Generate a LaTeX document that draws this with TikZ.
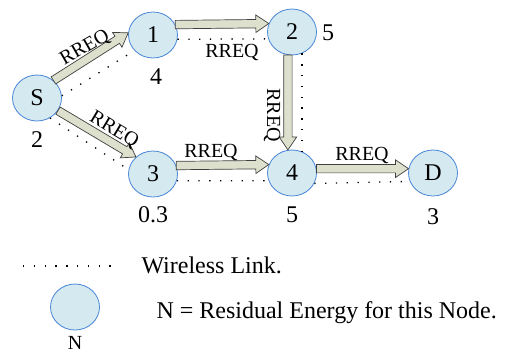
\documentclass[tikz,border=0pt]{standalone}
\usepackage{fontspec}
\setmainfont{Liberation Serif}
\usepackage{tikz}
\usetikzlibrary{calc,shapes.geometric}
\definecolor{nodefill}{RGB}{212,234,240}
\definecolor{nodeline}{RGB}{74,134,216}
\definecolor{arrowfill}{RGB}{221,224,204}

\begin{document}
\begin{tikzpicture}[x=1pt,y=-1pt,
  host/.style={ellipse,draw=nodeline,fill=nodefill,line width=0.8pt,minimum width=49pt,minimum height=46pt,inner sep=0pt,font=\fontsize{24}{28}\selectfont},
  energy/.style={font=\fontsize{24}{28}\selectfont},
  rreq/.style={font=\fontsize{20}{24}\selectfont,inner sep=0pt},
  rarrow/.style={fill=arrowfill,draw=black!75,line width=0.7pt,line join=miter},
  link/.style={line width=1.3pt,dash pattern=on 1.3pt off 9.5pt}]
  \useasboundingbox (0,0) rectangle (505,354);
  \node[host] (nS) at (37,98) {S};
  \node[host] (n1) at (153,35) {1};
  \node[host] (n2) at (292,32) {2};
  \node[host] (n3) at (153,174) {3};
  \node[host] (n4) at (292,173) {4};
  \node[host] (nD) at (433,173) {D};
  \node[energy] (eS) at (37,140) {2};
  \node[energy] (e1) at (156,77) {4};
  \node[energy] (e2) at (328,33) {5};
  \node[energy] (e3) at (153,215) {0.3};
  \node[energy] (e4) at (292,215) {5};
  \node[energy] (eD) at (433,217) {3};
  \draw[link] (nS.5) -- (n1.220);
  \draw[link] (nS.-57) -- (n3.170);
  \draw[link] (n1.-10) -- (n2.196);
  \draw[link] (n2.-65) -- (n4.65);
  \draw[link] (n3.-16) -- (n4.198);
  \draw[link] (n4.-25) -- (nD.200);
  \foreach \a/\b in {nS.47/n1.175,nS.-31/n3.135,n1.25/n2.160,n2.-100/n4.100,n3.20/n4.160,n4.10/nD.170}{
    \coordinate (h) at ($(\b)!13pt!(\a)$);
    \filldraw[rarrow] ($(\a)!4.2pt!90:(\b)$) -- ($(h)!4.2pt!90:(\b)$) -- ($(h)!8.8pt!90:(\b)$)
      -- (\b) -- ($(h)!8.8pt!-90:(\b)$) -- ($(h)!4.2pt!-90:(\b)$) -- ($(\a)!4.2pt!-90:(\b)$) -- cycle;
  }
  \node[rreq,rotate=30] (r1) at (85,48) {RREQ};
  \node[rreq,rotate=-31] (r2) at (114,130) {RREQ};
  \node[rreq] (r3) at (232,52) {RREQ};
  \node[rreq,rotate=-90] (r4) at (272,115) {RREQ};
  \node[rreq] (r5) at (211,152) {RREQ};
  \node[rreq] (r6) at (362,155) {RREQ};
  \coordinate (l1) at (23,266);
  \coordinate (l2) at (112,266);
  \draw[link] (l1) -- (l2);
  \node[energy,anchor=west] (wl) at (138,265) {Wireless Link.};
  \node[host] (key) at (75,307) {};
  \node[font=\fontsize{20}{24}\selectfont] (keyN) at (75,343) {N};
  \node[energy,anchor=west] (re) at (153,313) {N = Residual Energy for this Node.};
\end{tikzpicture}
\end{document}
